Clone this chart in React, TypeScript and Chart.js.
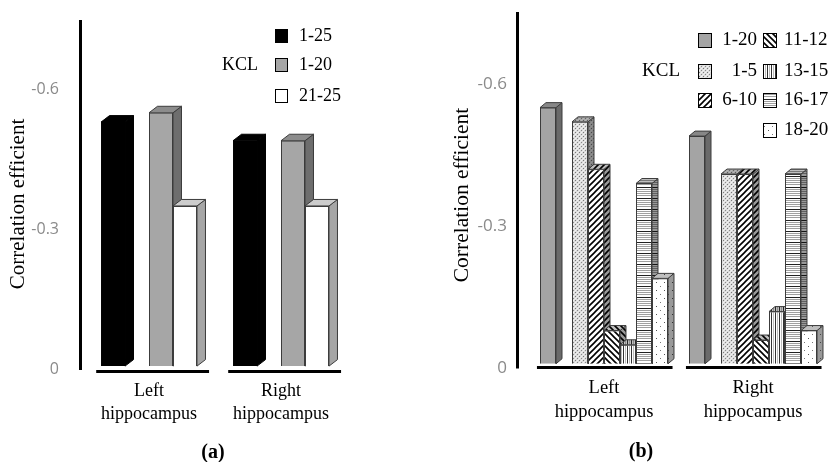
import React, { useEffect, useRef } from 'react';
import { Chart, registerables } from 'chart.js';
Chart.register(...registerables);

// ---------------- data ----------------
const categories = [['Left', 'hippocampus'], ['Right', 'hippocampus']];
const yTickValues = [0, -0.3, -0.6];
const yTickLabels = ['0', '-0.3', '-0.6'];
const legendTitle = 'KCL';
const axisTitle = 'Correlation efficient';

// panel (a)
const aSeriesNames = ['1-25', '1-20', '21-25'];
const aKcl1to25 = [-0.53, -0.49];
const aKcl1to20 = [-0.55, -0.49];
const aKcl21to25 = [-0.35, -0.35];
const aCaption = '(a)';

// panel (b)
const bSeriesNames = ['1-20', '1-5', '6-10', '11-12', '13-15', '16-17', '18-20'];
const bKcl1to20 = [-0.55, -0.49];
const bKcl1to5 = [-0.52, -0.41];
const bKcl6to10 = [-0.42, -0.41];
const bKcl11to12 = [-0.08, -0.06];
const bKcl13to15 = [-0.05, -0.12];
const bKcl16to17 = [-0.39, -0.41];
const bKcl18to20 = [-0.19, -0.08];
const bCaption = '(b)';

// ---------------- styles ----------------
const SERIF = "'Liberation Serif', 'Times New Roman', serif";
const SANS = "'Open Sans', 'DejaVu Sans', sans-serif";

function makeTile(kind: string): HTMLCanvasElement {
  const c = document.createElement('canvas');
  const g = c.getContext('2d') as CanvasRenderingContext2D;
  const px = (x: number, y: number, col: string) => { g.fillStyle = col; g.fillRect(x, y, 1, 1); };
  if (kind === 'dots') {
    c.width = 4; c.height = 4;
    g.fillStyle = '#dcdcdc'; g.fillRect(0, 0, 4, 4);
    px(0, 0, '#7a7a7a'); px(2, 2, '#8a8a8a'); px(2, 0, '#f2f2f2'); px(0, 2, '#f2f2f2');
    px(1, 1, '#ececec'); px(3, 3, '#ececec');
  } else if (kind === 'fwd' || kind === 'back') {
    const s = 6;
    c.width = s; c.height = s;
    g.fillStyle = '#ffffff'; g.fillRect(0, 0, s, s);
    g.strokeStyle = '#000'; g.lineWidth = 1.6;
    g.beginPath();
    if (kind === 'fwd') {
      g.moveTo(-1, s + 1); g.lineTo(s + 1, -1);
      g.moveTo(-1, 1); g.lineTo(1, -1);
      g.moveTo(s - 1, s + 1); g.lineTo(s + 1, s - 1);
    } else {
      g.moveTo(-1, -1); g.lineTo(s + 1, s + 1);
      g.moveTo(s - 1, -1); g.lineTo(s + 1, 1);
      g.moveTo(-1, s - 1); g.lineTo(1, s + 1);
    }
    g.stroke();
  } else if (kind === 'vert') {
    c.width = 4; c.height = 4;
    g.fillStyle = '#ffffff'; g.fillRect(0, 0, 4, 4);
    g.fillStyle = '#333'; g.fillRect(0, 0, 1, 4);
    g.fillStyle = '#bbb'; g.fillRect(2, 0, 1, 4);
  } else if (kind === 'horiz') {
    c.width = 4; c.height = 11;
    g.fillStyle = '#ffffff'; g.fillRect(0, 0, 4, 11);
    g.fillStyle = '#222'; g.fillRect(0, 0, 4, 1);
    g.fillStyle = '#a0a0a0';
    [2, 4, 6, 8].forEach((y) => g.fillRect(0, y, 4, 1));
  } else {
    c.width = 8; c.height = 8;
    g.fillStyle = '#ffffff'; g.fillRect(0, 0, 8, 8);
    px(1, 2, '#555'); px(5, 6, '#777');
  }
  return c;
}

type Fill = { front: any; side: any; top: any; edge: string; bw: number; sideShade?: number; topShade?: number };

const aFills: Fill[] = [
  { front: '#000000', side: '#000000', top: '#000000', edge: '#000000', bw: 0 },
  { front: '#a6a6a6', side: '#6e6e6e', top: '#8c8c8c', edge: '#3c3c3c', bw: 1 },
  { front: '#ffffff', side: '#a6a6a6', top: '#cccccc', edge: '#3c3c3c', bw: 1 },
];
const bPatternKinds = ['', 'dots', 'fwd', 'back', 'vert', 'horiz', 'sparse'];

const panelA = {
  width: 415,
  area: { left: 83, right: 347, top: 20, bottom: 369 },
  yMin: -0.72, base: -0.0062, dx: 8.5, dy: 6.5, catPct: 0.727,
  tickFont: 16, tickPad: 24,
  xFont: 18, xLine: 23, xPad: 10.5,
  axisLine: { x: 80.5, y0: 20, y1: 370 },
  underline: { y: 371.5, from: -0.40, to: 0.455, w: 3 },
  title: { x: 18, y: 204, size: 21 },
  caption: { x: 213, y: 453, size: 20 },
  legend: {
    font: 18, box: [13, 14], kcl: { x: 222, y: 65 },
    items: [
      { bx: 275, cy: 36, tx: 299, align: 'left' },
      { bx: 275, cy: 65, tx: 299, align: 'left' },
      { bx: 275, cy: 96, tx: 299, align: 'left' },
    ],
  },
};

const panelB = {
  width: 414,
  area: { left: 114.5, right: 412.5, top: 12, bottom: 368.5 },
  yMin: -0.708, base: -0.01, dx: 6, dy: 5, catPct: 0.859,
  tickFont: 17, tickPad: 22.5,
  xFont: 18.5, xLine: 24, xPad: 7.5,
  axisLine: { x: 102.5, y0: 12, y1: 368.5 },
  underline: { y: 367.5, from: -0.45, to: 0.46, w: 3 },
  title: { x: 47, y: 195, size: 21.5 },
  caption: { x: 226, y: 452, size: 20 },
  legend: {
    font: 19, box: [14, 15], kcl: { x: 227, y: 71 },
    items: [
      { bx: 283, cy: 40, tx: 342, align: 'right' },
      { bx: 283, cy: 71, tx: 342, align: 'right' },
      { bx: 283, cy: 100, tx: 342, align: 'right' },
      { bx: 348, cy: 40, tx: 369, align: 'left' },
      { bx: 348, cy: 71, tx: 369, align: 'left' },
      { bx: 348, cy: 100, tx: 369, align: 'left' },
      { bx: 348, cy: 130, tx: 369, align: 'left' },
    ],
  },
};

// ---------------- chart building ----------------
function buildDatasets(names: string[], values: number[][], fills: Fill[], base: number) {
  const ds: any[] = names.map((name, i) => ({
    label: name,
    data: values[i],
    backgroundColor: fills[i].front,
    borderColor: fills[i].edge,
    borderWidth: fills[i].bw,
    base,
    sideFill: fills[i].side,
    topFill: fills[i].top,
    sideShade: fills[i].sideShade || 0,
    topShade: fills[i].topShade || 0,
    edge: fills[i].edge,
    legendFill: fills[i].front,
  }));
  // empty slot after the first series (as in the original grouping)
  ds.splice(1, 0, { label: '', data: values[0].map(() => null), spacer: true, base, backgroundColor: 'rgba(0,0,0,0)', borderWidth: 0 });
  return ds;
}

function makePlugin(st: any, caption: string) {
  return {
    id: 'panelDecor',
    beforeDatasetsDraw(chart: any) {
      const ctx = chart.ctx as CanvasRenderingContext2D;
      chart.data.datasets.forEach((ds: any, i: number) => {
        if (ds.spacer) return;
        const meta = chart.getDatasetMeta(i);
        meta.data.forEach((el: any, j: number) => {
          const v = ds.data[j];
          if (v === null || v === undefined) return;
          const p = el.getProps(['x', 'y', 'base', 'width'], true);
          el.draw(ctx);
          const l = p.x - p.width / 2, r = p.x + p.width / 2;
          const top = Math.min(p.y, p.base), bot = Math.max(p.y, p.base);
          const face = (pts: number[][], fill: any, shade: number) => {
            ctx.save();
            ctx.beginPath();
            pts.forEach(([x, y], k) => (k ? ctx.lineTo(x, y) : ctx.moveTo(x, y)));
            ctx.closePath();
            ctx.fillStyle = fill; ctx.fill();
            if (shade) { ctx.fillStyle = `rgba(0,0,0,${shade})`; ctx.fill(); }
            ctx.lineWidth = 1; ctx.strokeStyle = ds.edge; ctx.stroke();
            ctx.restore();
          };
          face([[r, bot], [r + st.dx, bot - st.dy], [r + st.dx, top - st.dy], [r, top]], ds.sideFill, ds.sideShade);
          face([[l, top], [l + st.dx, top - st.dy], [r + st.dx, top - st.dy], [r, top]], ds.topFill, ds.topShade);
        });
      });
      return false;
    },
    afterDraw(chart: any) {
      const ctx = chart.ctx as CanvasRenderingContext2D;
      ctx.save();
      // y axis line
      ctx.strokeStyle = '#000'; ctx.lineWidth = 3;
      ctx.beginPath(); ctx.moveTo(st.axisLine.x, st.axisLine.y0); ctx.lineTo(st.axisLine.x, st.axisLine.y1); ctx.stroke();
      // category underlines
      const xs = chart.scales.x;
      const cw = (chart.chartArea.right - chart.chartArea.left) / categories.length;
      ctx.lineWidth = st.underline.w;
      categories.forEach((_, i) => {
        const c = xs.getPixelForValue(i);
        ctx.beginPath();
        ctx.moveTo(c + st.underline.from * cw, st.underline.y);
        ctx.lineTo(c + st.underline.to * cw, st.underline.y);
        ctx.stroke();
      });
      // axis title
      ctx.save();
      ctx.translate(st.title.x, st.title.y);
      ctx.rotate(-Math.PI / 2);
      ctx.font = `${st.title.size}px ${SERIF}`;
      ctx.fillStyle = '#000'; ctx.textAlign = 'center'; ctx.textBaseline = 'middle';
      ctx.fillText(axisTitle, 0, 0);
      ctx.restore();
      // caption
      ctx.font = `bold ${st.caption.size}px ${SERIF}`;
      ctx.fillStyle = '#000'; ctx.textAlign = 'center'; ctx.textBaseline = 'middle';
      ctx.fillText(caption, st.caption.x, st.caption.y);
      // legend
      const lg = st.legend;
      ctx.font = `${lg.font}px ${SERIF}`;
      ctx.textBaseline = 'middle';
      ctx.textAlign = 'left';
      ctx.fillText(legendTitle, lg.kcl.x, lg.kcl.y);
      const series = chart.data.datasets.filter((d: any) => !d.spacer);
      series.forEach((d: any, i: number) => {
        const it = lg.items[i];
        const [bw, bh] = lg.box;
        const by = Math.round(it.cy - bh / 2);
        ctx.fillStyle = d.legendFill;
        ctx.fillRect(it.bx, by, bw, bh);
        ctx.strokeStyle = '#000'; ctx.lineWidth = 1;
        ctx.strokeRect(it.bx + 0.5, by + 0.5, bw - 1, bh - 1);
        ctx.fillStyle = '#000';
        ctx.textAlign = it.align;
        ctx.fillText(d.label, it.tx, it.cy);
      });
      ctx.restore();
    },
  };
}

function buildConfig(st: any, datasets: any[], caption: string): any {
  return {
    type: 'bar',
    data: { labels: categories, datasets },
    options: {
      responsive: false,
      animation: false,
      events: [],
      layout: { padding: { left: 0, top: st.area.top, right: st.width - st.area.right, bottom: 0 } },
      datasets: { bar: { categoryPercentage: st.catPct, barPercentage: 1 } },
      plugins: { legend: { display: false }, tooltip: { enabled: false } },
      scales: {
        x: {
          type: 'category',
          offset: true,
          grid: { display: false, drawTicks: false },
          border: { display: false },
          ticks: {
            autoSkip: false, maxRotation: 0, minRotation: 0,
            padding: st.xPad, color: '#000',
            font: { family: SERIF, size: st.xFont, lineHeight: st.xLine / st.xFont },
          },
          afterFit: (s: any) => { s.height = 462 - st.area.bottom; },
        },
        y: {
          type: 'linear',
          reverse: true,
          min: st.yMin,
          max: 0,
          grid: { display: false, drawTicks: false },
          border: { display: false },
          afterBuildTicks: (s: any) => { s.ticks = yTickValues.map((v) => ({ value: v })); },
          ticks: {
            padding: st.tickPad, color: '#8a8a8a',
            font: { family: SANS, size: st.tickFont },
            callback: (v: number) => {
              const k = yTickValues.findIndex((t) => Math.abs(t - v) < 1e-9);
              return k >= 0 ? yTickLabels[k] : '';
            },
          },
          afterFit: (s: any) => { s.width = st.area.left; },
        },
      },
    },
    plugins: [makePlugin(st, caption)],
  };
}

function PanelA() {
  const ref = useRef<HTMLCanvasElement>(null);
  useEffect(() => {
    const canvas = ref.current as HTMLCanvasElement;
    const ds = buildDatasets(aSeriesNames, [aKcl1to25, aKcl1to20, aKcl21to25], aFills, panelA.base);
    const chart = new Chart(canvas, buildConfig(panelA, ds, aCaption));
    return () => chart.destroy();
  }, []);
  return <canvas ref={ref} width={panelA.width} height={462} style={{ position: 'absolute', left: 0, top: 0, width: panelA.width, height: 462 }} />;
}

function PanelB() {
  const ref = useRef<HTMLCanvasElement>(null);
  useEffect(() => {
    const canvas = ref.current as HTMLCanvasElement;
    const g = canvas.getContext('2d') as CanvasRenderingContext2D;
    const fills: Fill[] = bPatternKinds.map((k) => {
      if (!k) return { front: '#a4a4a4', side: '#6a6a6a', top: '#878787', edge: '#3c3c3c', bw: 1 };
      const pat: any = g.createPattern(makeTile(k), 'repeat');
      return { front: pat, side: pat, top: pat, edge: '#3c3c3c', bw: 1, sideShade: 0.4, topShade: 0.25 };
    });
    const values = [bKcl1to20, bKcl1to5, bKcl6to10, bKcl11to12, bKcl13to15, bKcl16to17, bKcl18to20];
    const ds = buildDatasets(bSeriesNames, values, fills, panelB.base);
    const chart = new Chart(canvas, buildConfig(panelB, ds, bCaption));
    return () => chart.destroy();
  }, []);
  return <canvas ref={ref} width={panelB.width} height={462} style={{ position: 'absolute', left: 415, top: 0, width: panelB.width, height: 462 }} />;
}

export default function App() {
  return (
    <div style={{ position: 'fixed', left: 0, top: 0, width: 829, height: 462, background: '#ffffff', overflow: 'hidden' }}>
      <PanelA />
      <PanelB />
    </div>
  );
}
